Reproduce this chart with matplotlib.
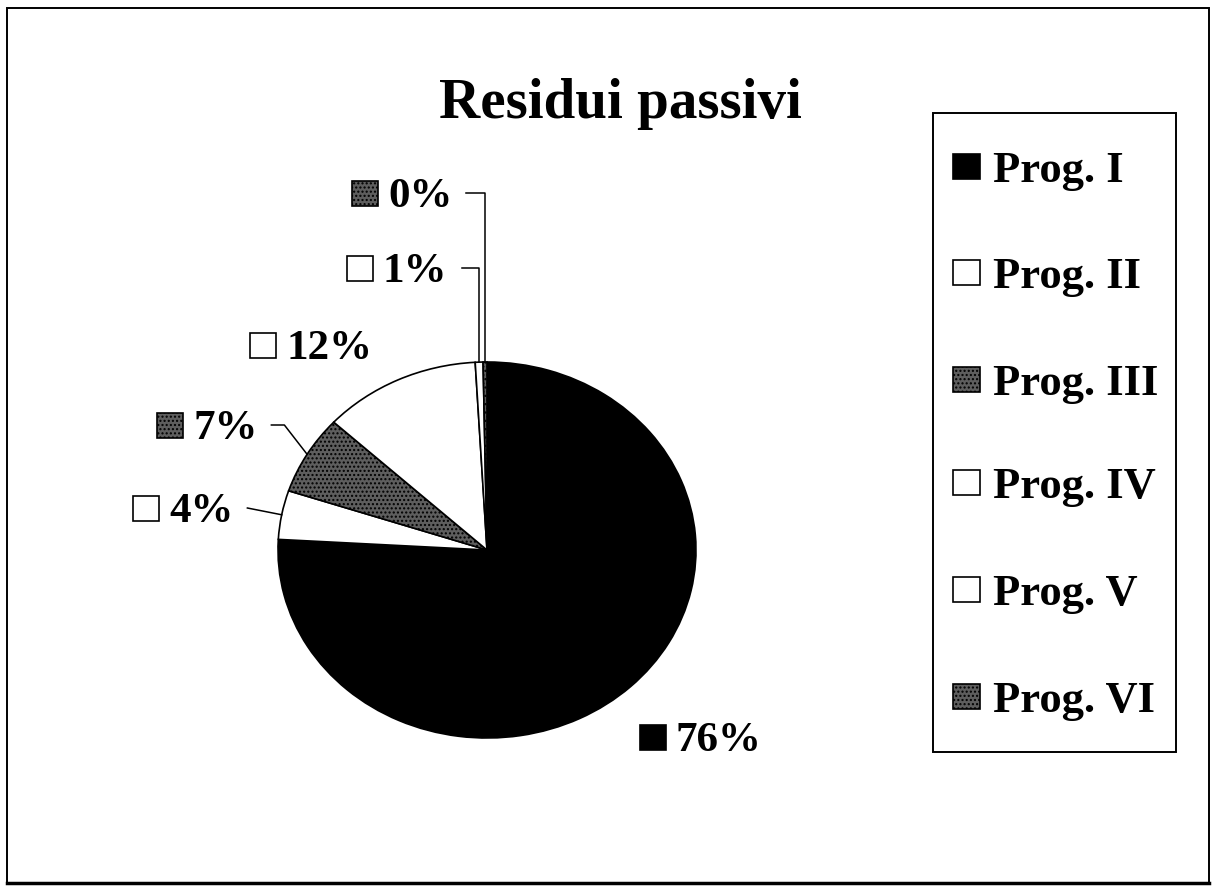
import numpy as np
import matplotlib.pyplot as plt
from matplotlib.patches import Rectangle

plt.rcParams['font.family'] = ['Liberation Serif', 'DejaVu Serif']
plt.rcParams['font.weight'] = 'bold'
plt.rcParams['hatch.linewidth'] = 1.0

# data
labels = ['Prog. I', 'Prog. II', 'Prog. III', 'Prog. IV', 'Prog. V', 'Prog. VI']
shares = [75.9, 4.2, 6.8, 12.2, 0.6, 0.3]
title = 'Residui passivi'

# styles
fills = ['black', 'white', '#5e5e5e', 'white', 'white', '#5e5e5e']
hatches = [None, None, '....', None, None, '....']

# layout (pixels of a 1215x894 picture)
W, H = 1215, 894
cx, cy, rx, ry = 487, 550, 209, 188
pct_pos = [(640, 737), (133, 508), (157, 425), (250, 345), (347, 268), (352, 193)]
# leader: None, 'straight', ('elbow', dx) or 'drop' (horizontal then down to the rim)
leaders = [None, 'straight', ('elbow', 13), None, 'drop', 'drop']
leg_box = (933, 113, 1176, 752)
leg_y = [167, 273, 380, 483, 590, 697]

fig = plt.figure(figsize=(W / 100, H / 100), dpi=100)
fig.patch.set_facecolor('white')

# pie axes, stretched to the ellipse of the scan
pad = 1.02
ax = fig.add_axes([(cx - rx * pad) / W, (H - cy - ry * pad) / H,
                   2 * rx * pad / W, 2 * ry * pad / H])
wedges, _ = ax.pie(shares, colors=fills, startangle=90, counterclock=False,
                   wedgeprops=dict(edgecolor='black', linewidth=1.2))
for w, h in zip(wedges, hatches):
    if h:
        w.set_hatch(h)
ax.set_aspect('auto')
ax.set_xlim(-pad, pad)
ax.set_ylim(-pad, pad)
ax.axis('off')

# overlay in pixel coordinates
ov = fig.add_axes([0, 0, 1, 1], zorder=3)
ov.set_xlim(0, W)
ov.set_ylim(H, 0)
ov.axis('off')

# outer frame
ov.add_patch(Rectangle((7, 8), 1202, 875, fill=False, lw=1.4, ec='black'))
ov.plot([7, 1209], [883, 883], color='black', lw=2.5)

ov.text(620, 118, title, ha='center', va='baseline', fontsize=41)

# percentage labels with keys and leader lines
tot = sum(shares)
start = 90.0
for i, s in enumerate(shares):
    a1 = start
    a2 = start - 360 * s / tot
    start = a2
    mid = np.radians((a1 + a2) / 2)
    axp = cx + rx * np.cos(mid)
    ayp = cy - ry * np.sin(mid)

    x, y = pct_pos[i]
    ov.add_patch(Rectangle((x, y - 12), 26, 25, fc=fills[i], ec='black', lw=1.2,
                           hatch=hatches[i]))
    t = ov.text(x + 36, y + 14, f'{100 * s / tot:.0f}%', ha='left', va='baseline',
                fontsize=31)

    ld = leaders[i]
    if ld is None:
        continue
    fig.canvas.draw()
    bb = t.get_window_extent().transformed(ov.transData.inverted())
    x0 = max(bb.x0, bb.x1) + 14
    if ld == 'straight':
        xs, ys = [x0, axp], [y, ayp]
    elif ld == 'drop':
        xs, ys = [x0, axp, axp], [y, y, ayp]
    else:
        xs, ys = [x0, x0 + ld[1], axp], [y, y, ayp]
    ov.plot(xs, ys, color='black', lw=1.1)

# legend box
lx0, ly0, lx1, ly1 = leg_box
ov.add_patch(Rectangle((lx0, ly0), lx1 - lx0, ly1 - ly0, fill=False, ec='black', lw=1.4))
for i, lab in enumerate(labels):
    y = leg_y[i]
    ov.add_patch(Rectangle((953, y - 13), 27, 25, fc=fills[i], ec='black', lw=1.2,
                           hatch=hatches[i]))
    ov.text(993, y + 15, lab, ha='left', va='baseline', fontsize=32)

fig.savefig('out.png', dpi=100, facecolor='white')
